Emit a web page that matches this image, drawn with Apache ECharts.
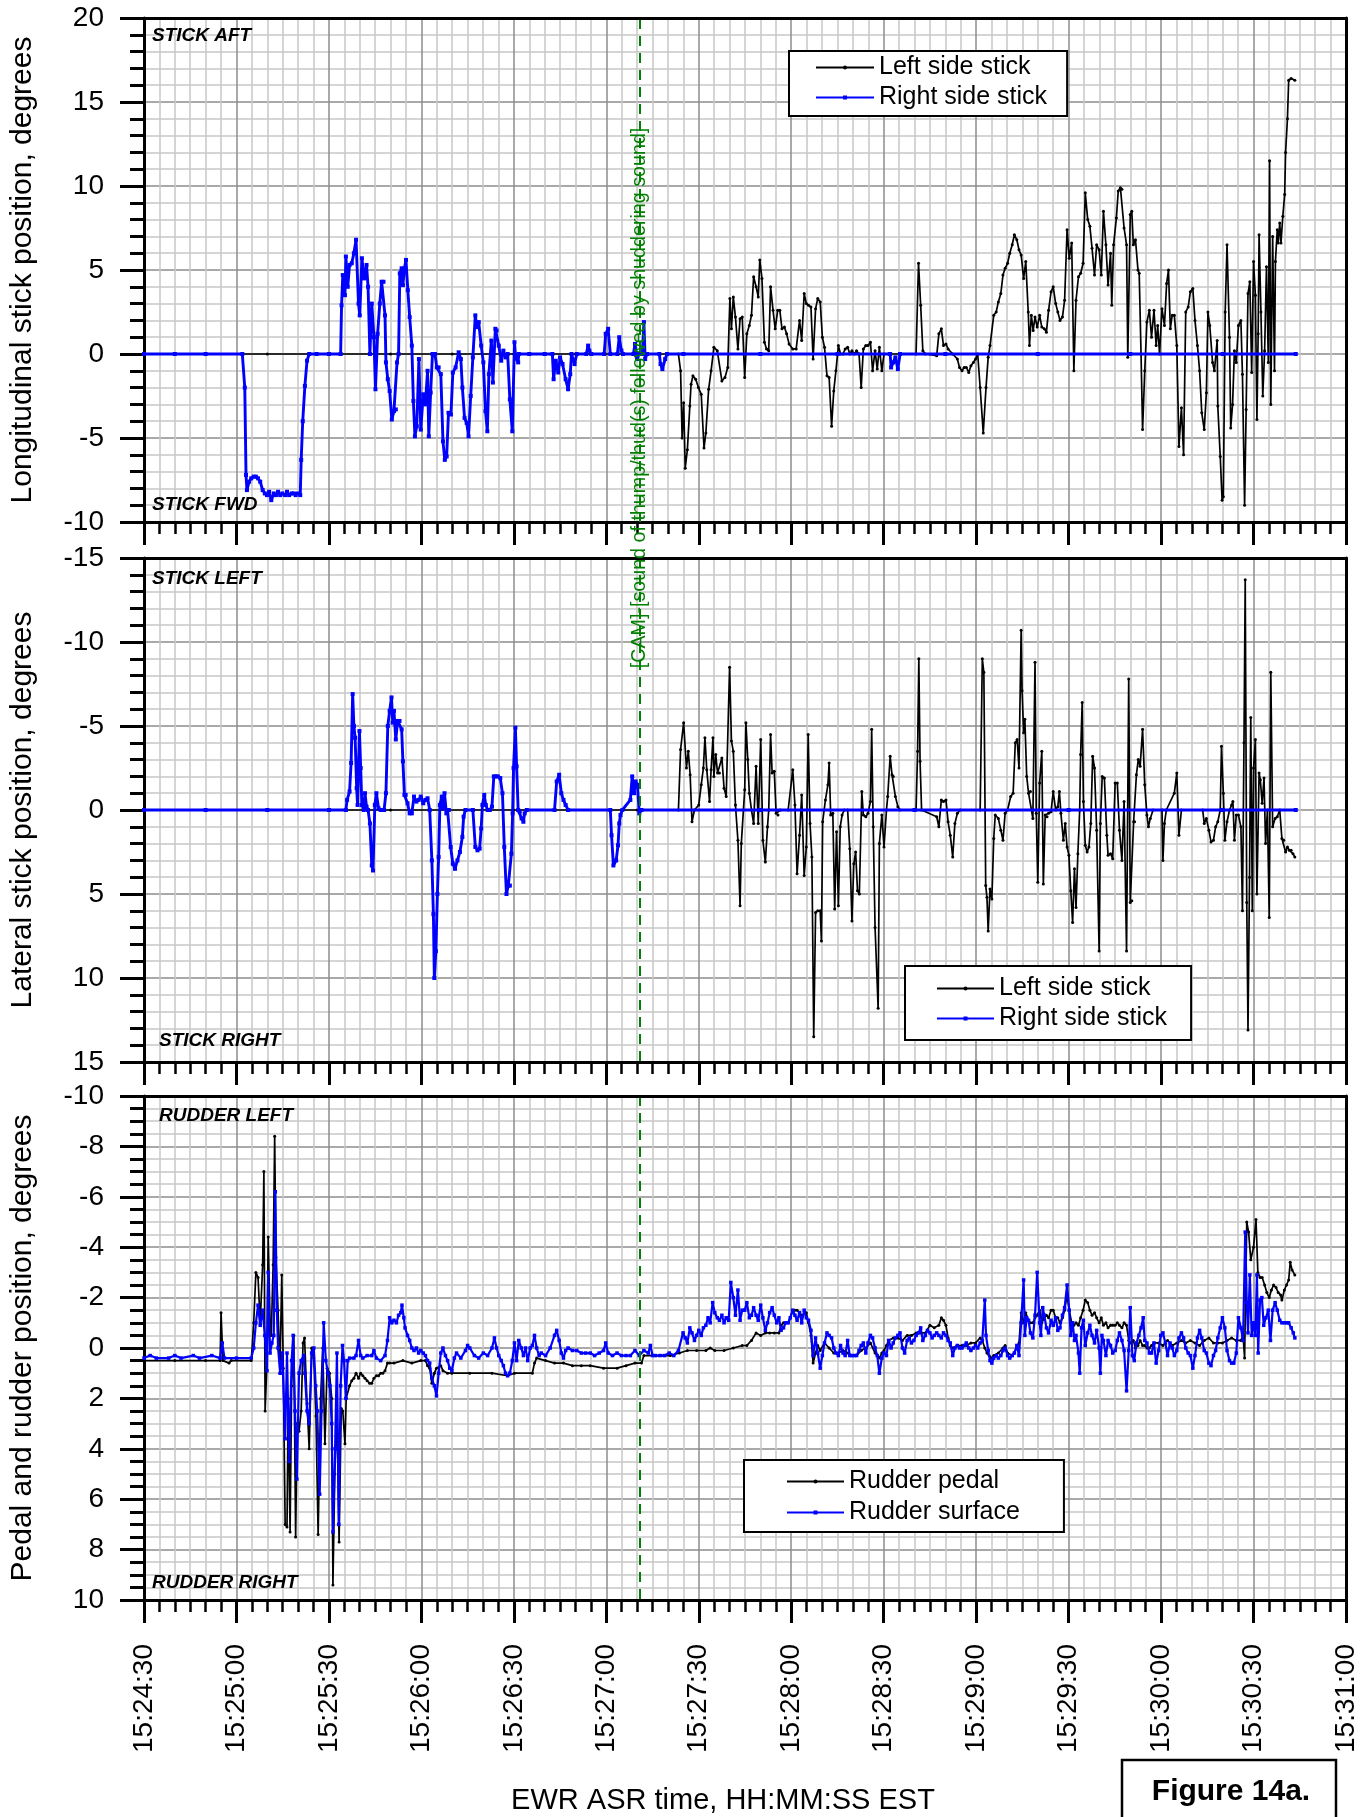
<!DOCTYPE html>
<html><head><meta charset="utf-8">
<script src="https://cdn.jsdelivr.net/npm/echarts@6/dist/echarts.min.js"></script>
<style>html,body{margin:0;padding:0;background:#fff}#c{width:1368px;height:1817px}</style>
</head><body><div id="c"></div>
<script>
// time origin 15:24:30 EST; x values are seconds after it
const T0 = 15 * 3600 + 24 * 60 + 30;
const X_MIN = 0, X_MAX = 390, X_STEP = 30;
const EVENT_T = 160.7; // CAM event, ~15:27:10.7
const EVENT_TEXT = '[CAM]-[sound of thump/thud(s) followed by shuddering sound]';

// Panel 1: longitudinal stick position, degrees
const longLeft = [[0,0],[20,0],[40,0],[60,0],[80,0],[100,0],[120,0],[140,0],[160,0],[173.4,0],
[174.1,-1.0],[174.6,-5.0],[175.1,-2.9],[175.6,-6.8],[176.3,-5.7],[177.1,-3.1],[177.5,-1.8],[178.1,-1.3],[179.0,-1.5],[179.9,-2.0],
[180.8,-2.4],[181.7,-5.6],[182.3,-4.7],[183.2,-2.1],[184.0,-1.0],[184.9,0.4],[186.0,0.2],[187.5,-1.6],[188.5,-1.4],[189.4,-0.8],
[190.1,3.3],[190.6,1.5],[191.2,3.4],[191.9,2.2],[192.7,0.3],[193.4,2.1],[194.1,2.2],[194.9,-1.4],[195.6,1.2],[196.4,1.7],
[197.1,2.3],[197.8,4.6],[198.6,4.0],[199.3,3.4],[199.8,5.6],[200.5,4.5],[201.3,0.7],[202.0,0.3],[202.7,0.2],[203.3,4.0],
[204.1,2.6],[204.8,1.5],[205.6,2.6],[206.3,2.6],[207.0,1.5],[207.8,1.6],[208.5,1.2],[209.3,0.6],[210.5,0.3],[211.6,0.3],
[212.7,2.0],[213.4,0.8],[214.2,3.6],[214.9,3.0],[215.6,2.9],[216.4,2.8],[217.1,-0.3],[217.9,2.7],[218.6,3.3],[219.4,3.1],
[220.1,1.0],[220.8,0.4],[221.6,-1.3],[222.3,-1.4],[223.1,-4.3],[223.8,-2.2],[224.5,-1.0],[225.3,0.5],[226.0,0],[226.8,0],
[227.5,0.3],[228.3,0.4],[229.0,0],[229.7,0.2],[230.5,0],[231.2,0.2],[232.0,0],[232.7,-2.0],[233.4,0.3],[234.2,0.5],
[234.9,0.5],[235.7,0.7],[236.4,-1.0],[237.2,0.2],[237.9,-0.9],[238.6,0.4],[239.4,-1.0],[240.1,0],[241.6,0],[245,0],
[250.5,0],[251.3,5.4],[252.0,2.9],[252.7,0.2],[253.5,0],[257.2,-0.1],[257.9,1.2],[258.7,1.5],[259.4,0.5],[260.2,0.6],
[260.9,0.3],[262.4,0],[263.9,-0.3],[264.6,-0.8],[265.4,-1.0],[266.1,-0.8],[266.8,-0.8],[267.6,-1.1],[268.3,-0.7],[269.1,-0.5],
[269.8,-0.3],[270.5,0],[271.3,-2.0],[272.3,-4.7],[273.2,-2.0],[273.9,-0.2],[274.5,0.5],[275.7,2.3],[276.5,2.5],[277.2,3.1],
[278.0,3.6],[278.7,4.7],[279.4,5.1],[280.2,5.4],[280.9,6.0],[281.7,6.5],[282.4,7.1],[283.2,6.8],[283.9,6.2],[284.6,5.9],
[285.4,4.5],[286.1,5.5],[286.9,2.5],[287.3,0.5],[287.9,2.3],[288.5,1.4],[289.1,2.2],[289.8,1.6],[290.6,2.3],[291.3,1.6],
[292.1,1.5],[292.8,1.3],[293.5,2.6],[294.3,3.7],[295.0,4.0],[295.8,3.0],[296.5,2.5],[297.2,2.0],[298.0,2.2],[298.7,3.2],
[299.5,7.4],[300.2,5.7],[301.0,6.6],[301.7,-1.0],[302.4,3.2],[303.2,4.6],[303.9,4.8],[304.7,5.4],[305.4,9.6],[306.2,8.0],
[306.9,7.6],[307.6,6.3],[308.4,4.7],[309.1,6.5],[309.9,6.2],[310.6,4.7],[311.3,8.5],[312.1,6.5],[312.8,4.1],[313.6,6.0],
[314.0,2.9],[314.6,6.5],[315.5,8.1],[316.1,9.7],[316.8,9.9],[317.3,9.8],[318.0,7.5],[318.8,6.5],[319.2,-0.2],[320.0,8.3],
[320.5,8.5],[321.0,6.5],[321.7,6.8],[322.5,5.0],[322.9,4.8],[323.5,0],[324.0,-4.5],[324.7,-1.0],[325.4,1.9],[326.2,2.6],
[326.9,1.0],[327.7,2.6],[328.4,0.5],[328.9,1.7],[329.5,0],[330.3,2.7],[331.1,1.7],[331.8,4.2],[332.4,5.0],[333.0,1.5],
[333.6,2.3],[334.3,2.3],[335.1,0.5],[335.8,-5.5],[336.6,-3.2],[337.3,-6.0],[338.0,2.5],[338.8,2.8],[339.5,3.7],[340.3,3.9],
[341.0,2.0],[341.8,0.5],[342.5,-1.0],[343.2,-3.5],[344.0,-4.5],[344.7,-2.3],[345.2,2.5],[345.8,1.7],[346.7,-0.5],[347.3,-1.0],
[348.2,0.8],[348.4,-3.1],[349.2,-6.1],[349.8,-8.7],[350.2,-8.5],[350.8,2.5],[351.4,6.5],[352.2,1.0],[352.6,-4.4],[353.2,-3.0],
[353.8,0.2],[354.4,-0.5],[355.1,1.7],[355.9,2.0],[356.4,-1.2],[357.1,-9.0],[357.6,-3.3],[358.2,3.6],[358.8,4.3],[359.4,-1.1],
[360.0,5.5],[360.6,3.5],[361.1,-3.9],[361.5,1.2],[361.8,7.1],[362.4,2.5],[363.0,-2.5],[363.6,0.2],[364.2,5.2],[364.8,-0.5],
[365.2,11.5],[365.6,-3.0],[366.2,7.0],[366.8,-1.0],[367.1,5.5],[367.7,7.4],[368.0,6.6],[368.5,7.8],[368.9,6.6],[369.5,8.2],
[370.1,9.5],[370.4,12.0],[371.0,14.0],[371.4,16.3],[372.2,16.4],[373.4,16.3]];

const longRight = [[0,0],[10,0],[20,0],[31.9,0],[32.7,-2.0],[33.1,-7.2],[33.4,-8.1],[34.1,-7.6],[34.8,-7.4],[35.6,-7.3],
[36.3,-7.3],[37.0,-7.4],[37.7,-7.6],[38.5,-8.1],[39.2,-8.3],[39.9,-8.4],[40.6,-8.2],[41.3,-8.7],[42.1,-8.3],[42.8,-8.4],
[43.5,-8.2],[44.2,-8.4],[44.9,-8.3],[45.8,-8.4],[46.4,-8.2],[47.1,-8.4],[47.9,-8.3],[48.6,-8.3],[49.2,-8.4],[50.0,-8.3],
[50.7,-8.4],[51.0,-6.3],[51.5,-4.0],[52.2,-1.9],[52.9,-0.4],[53.6,0],[56,0],[60,0],[63.8,0],[64.1,2.9],
[64.5,4.7],[65.2,3.5],[65.5,5.8],[66.1,4.0],[66.7,5.3],[67.4,5.4],[68.1,6.0],[68.8,6.8],[69.6,3.0],[70.0,2.3],
[70.7,5.7],[71.4,4.5],[72.2,5.3],[72.7,4.0],[73.3,0.0],[73.9,3.0],[74.6,1.0],[75.1,-2.1],[75.8,1.2],[76.5,3.0],
[77.1,4.3],[77.7,4.3],[78.2,2.3],[78.5,-0.5],[79.1,-1.5],[79.7,-2.2],[80.4,-3.9],[81.1,-3.4],[81.7,-3.3],[82.1,-0.5],
[82.6,0],[83.0,4.8],[83.6,5.1],[84.0,4.1],[84.5,5.1],[85.0,5.6],[85.6,3.8],[86.2,2.2],[86.9,0.5],[87.4,-2.8],
[87.9,-4.9],[88.5,-4.3],[89.2,-0.3],[89.8,-4.5],[90.6,-2.4],[91.3,-3.0],[92.0,-1.0],[92.4,-4.9],[93.0,-2.3],[93.6,0],
[94.4,0],[95.0,-0.8],[95.6,-0.8],[96.3,-1.2],[97.0,-5.2],[97.6,-6.3],[98.2,-6.1],[98.8,-3.5],[99.6,-3.6],[100.2,-1.1],
[101.1,-0.8],[102.1,0.1],[102.8,-0.3],[103.3,-2.0],[104.0,-3.8],[104.7,-4.1],[105.3,-4.9],[106.0,-2.5],[106.7,-0.2],[107.5,2.3],
[108.0,1.6],[108.6,1.9],[109.4,0.5],[110.1,-0.5],[110.8,-3.4],[111.4,-4.6],[111.9,-1.2],[112.7,0.8],[113.2,-1.7],[114.0,1.5],
[114.4,1.4],[115.1,0.5],[115.9,-0.4],[116.6,0.2],[117.3,-0.2],[118.0,0],[118.7,-2.7],[119.5,-4.6],[120.2,0.7],[120.6,-0.2],
[121.4,-0.5],[121.6,0],[125,0],[130,0],[132.5,0],[132.9,-1.5],[133.6,-0.4],[134.4,-1.1],[135.0,-0.2],[135.8,-0.6],
[136.8,-1.5],[137.6,-2.1],[138.3,-1.2],[138.7,0],[139.7,-0.6],[140.4,0],[143.5,0],[144.1,0.5],[144.5,0.2],[145.1,0],
[149.3,0],[149.8,1.2],[150.6,1.5],[151.3,0],[153.6,0],[154.2,1.0],[154.9,0.2],[155.4,0],[158.8,0],[159.3,0.6],
[160.0,-0.3],[160.7,0],[161.7,0],[162.2,1.9],[162.6,-0.3],[163.2,0],[167.2,0],[167.6,-0.6],[168.2,-0.9],[169.1,-0.3],
[169.7,0],[175,0],[200,0],[225,0],[242.1,0],[242.4,-0.8],[243.1,-0.5],[243.8,-0.2],[244.6,-0.9],[245.3,0],
[260,0],[290,0],[320,0],[350,0],[373.7,0]];

// Panel 2: lateral stick position, degrees (negative = left)
const latLeft = [[0,0],[40,0],[80,0],[120,0],[160,0],[173.4,0],[174.1,-3.6],[175.1,-5.2],[176.0,-2.5],[176.6,-3.5],
[177.2,-2.1],[177.8,0.7],[178.6,0],[180.0,-0.3],[180.8,-1.5],[181.5,-2.5],[182.0,-4.3],[182.6,-2.4],[183.5,-0.5],[184.0,-2.4],
[184.6,-4.3],[184.9,-2.0],[185.5,-3.3],[186.1,-2.2],[186.7,-2.2],[187.5,-3.1],[188.2,-1.3],[188.9,-0.8],[190.0,-8.5],[190.6,-4.1],
[191.2,-3.5],[191.9,-0.3],[192.7,1.8],[193.4,5.7],[193.8,2.0],[194.9,-1.2],[195.3,-5.2],[195.9,-3.0],[196.4,-1.0],[197.1,0],
[197.8,0.8],[198.6,-2.6],[199.3,0.8],[200.1,-4.2],[200.8,1.8],[201.6,3.1],[202.3,1.0],[202.7,0],[203.3,-4.5],[203.8,-2.2],
[204.5,-2.3],[205.1,0.2],[205.7,0.3],[206.5,0],[209.0,0],[210.5,-2.4],[211.2,-0.3],[211.9,3.8],[212.7,1.5],[213.4,-0.9],
[214.2,3.9],[214.9,2.2],[215.5,-4.5],[216.1,0.8],[216.7,2.8],[217.3,13.5],[217.9,6.1],[218.6,6.0],[219.4,6.0],[219.8,7.8],
[220.2,0.7],[221.1,-0.6],[221.9,-1.5],[222.3,-2.8],[222.8,0.3],[223.5,0.2],[224.1,5.9],[224.7,1.3],[225.3,5.7],[225.9,1.0],
[226.5,0.3],[227.2,0],[228.3,0],[229.0,2.3],[229.7,6.6],[230.3,3.2],[230.9,2.5],[231.5,4.8],[232.1,5.0],[232.9,-1.1],
[233.4,0.3],[234.2,0.4],[234.9,0.2],[235.7,-0.5],[236.1,-4.8],[236.6,1.0],[237.2,7.0],[238.2,11.8],[238.6,2.0],[239.4,0.3],
[240.1,2.2],[240.9,0],[241.3,-0.8],[242.1,-3.2],[242.7,-2.1],[243.1,-2.0],[243.8,-0.8],[244.6,-0.2],[245.3,0],[250.5,0],
[251.0,-3.5],[251.4,-9.0],[251.8,-2.9],[252.3,0],[257.2,0.4],[257.9,1.0],[258.7,-0.6],[259.4,-0.5],[260.2,-0.6],[260.9,0.7],
[261.6,1.5],[262.4,2.8],[263.1,0.8],[263.9,0.2],[264.8,0],[271.3,0],[272.0,-9.0],[272.5,-8.2],[273.1,4.5],[273.5,5.2],
[273.9,7.2],[274.5,4.7],[275.1,5.3],[275.7,1.7],[276.2,0.3],[277.2,0.5],[278.0,1.2],[278.7,1.8],[279.4,0.2],[280.2,0],
[281.2,-0.8],[282.0,-1.0],[282.7,-4.0],[283.3,-4.2],[283.9,-2.5],[284.6,-10.7],[284.9,-7.1],[285.4,-4.6],[285.8,-5.4],[286.4,-2.0],
[287.0,-1.0],[287.6,-1.1],[288.4,0.5],[289.1,-8.8],[289.5,0.2],[290.0,4.3],[290.6,-1.6],[291.3,-3.5],[291.8,4.4],[292.4,0.3],
[293.0,0.4],[293.5,0.2],[294.3,0.1],[295.0,-1.1],[295.8,0],[296.5,-0.2],[297.0,-1.1],[297.5,0.2],[298.3,1.8],[298.9,0.8],
[299.5,2.2],[300.1,2.7],[300.7,4.8],[301.3,6.7],[301.9,3.5],[302.4,5.8],[303.0,2.6],[303.6,0],[303.9,-3.3],[304.4,-6.4],
[304.8,-0.5],[305.4,2.1],[306.0,2.5],[306.6,2.2],[307.2,0.8],[307.8,-3.2],[308.4,-2.5],[309.1,1.2],[309.9,8.4],[310.3,0.8],
[310.9,-2.0],[311.6,-1.9],[312.4,1.5],[312.8,2.7],[313.6,2.6],[314.3,2.9],[315.1,-1.6],[315.8,-1.6],[316.5,1.2],[317.3,3.0],
[318.0,-0.5],[318.8,8.4],[319.5,-7.8],[320.0,5.5],[320.5,5.4],[321.1,0.7],[321.4,0.7],[322.0,-2.1],[322.6,-3.0],[323.2,-2.6],
[324.0,-4.8],[324.7,-1.5],[325.4,0.3],[325.9,1.0],[326.5,0.5],[327.4,0],[330.3,0],[330.6,3.0],[331.1,0.8],[331.7,0],
[334.3,-1.0],[335.1,-2.2],[335.8,1.5],[336.6,0],[343.5,0],[344.0,0.8],[344.7,0.5],[345.5,1.2],[346.2,1.9],[347.0,1.8],
[347.7,1.0],[348.4,0.7],[349.2,0],[349.6,-3.8],[350.2,-1.0],[350.7,1.8],[351.4,0.7],[352.2,0],[352.9,-0.3],[353.3,-0.5],
[353.8,1.8],[354.4,0.3],[355.1,0.3],[355.9,1.0],[356.4,6.0],[356.9,-4.0],[357.3,-13.7],[357.8,5.5],[358.2,13.1],[358.7,4.0],
[359.1,-5.5],[359.6,6.0],[360.0,-2.5],[360.6,-4.2],[361.1,5.0],[361.8,-2.2],[362.2,-1.8],[362.8,-0.4],[363.4,-1.9],[363.9,2.0],
[364.5,0],[365.1,6.4],[365.6,-8.2],[366.2,1.0],[367.0,0.5],[367.7,0.4],[368.5,0],[369.2,1.7],[369.8,1.8],[370.4,2.5],
[371.0,2.2],[371.6,2.4],[372.2,2.4],[372.8,2.6],[373.4,2.8]];

const latRight = [[0,0],[20,0],[40,0],[60,0],[65.5,0],[65.9,-0.6],[66.7,-1.1],[67.2,-2.8],[67.7,-6.9],[68.1,-5.0],
[68.5,-4.3],[69.0,-1.3],[69.3,-0.3],[69.9,-4.7],[70.3,-2.5],[70.7,-0.3],[71.3,0],[71.7,-1.0],[72.2,-0.2],[72.7,0],
[73.3,0.8],[73.9,3.3],[74.3,3.6],[74.9,-0.3],[75.4,-1.0],[76.1,-0.1],[76.8,0],[77.9,0],[78.5,-1.0],[79.1,-5.0],
[79.7,-5.9],[80.3,-6.7],[80.7,-5.2],[81.1,-5.9],[81.7,-4.2],[82.3,-5.3],[82.9,-5.3],[83.6,-4.8],[84.0,-2.9],[84.5,-0.9],
[84.9,-0.9],[85.5,-0.4],[86.2,0.2],[86.9,0.2],[87.6,-0.8],[88.4,-0.5],[89.1,-0.6],[89.8,-0.8],[90.6,-0.4],[91.3,-0.6],
[92.0,-0.7],[92.7,0],[93.4,3.0],[93.9,6.2],[94.2,10.0],[94.7,8.4],[95.2,5.0],[95.6,2.8],[96.0,-0.3],[96.6,-0.8],
[97.0,-0.1],[97.5,-1.0],[98.1,0.2],[98.5,0],[98.9,0],[99.5,2.2],[100.2,3.2],[100.9,3.5],[101.7,3.0],[102.5,2.5],
[103.3,1.6],[103.7,0.4],[104.3,0],[106.7,0],[107.5,2.2],[108.2,2.4],[108.9,2.3],[109.4,1.1],[109.8,-0.3],[110.4,-0.9],
[110.9,-0.3],[111.5,0],[112.2,0],[112.9,-0.2],[113.5,-2.0],[114.1,-2.0],[114.8,-2.0],[115.6,-1.9],[116.3,-1.0],[116.9,2.2],
[117.6,5.0],[118.2,4.5],[118.7,4.5],[119.2,2.6],[119.6,0.2],[119.9,-2.5],[120.5,-4.9],[120.9,-2.6],[121.4,0],[121.9,0.1],
[122.5,0.5],[123.1,0.7],[123.5,0.2],[124.2,0],[133.2,0],[133.9,-1.7],[134.7,-2.1],[135.4,-1.0],[136.1,-0.6],[136.8,-0.3],
[137.6,0],[151.3,0],[151.7,1.5],[152.3,3.3],[153.2,3.0],[153.8,2.1],[154.2,0.8],[154.6,0.3],[155.2,0],[157.8,-0.6],
[158.4,-2.0],[159.0,-1.0],[159.5,-1.7],[160.1,-1.5],[160.7,0.2],[161.4,0],[200,0],[250,0],[300,0],[350,0],[373.7,0]];

// Panel 3: pedal and rudder position, degrees (negative = left)
const pedal = [[0,0.5],[10,0.5],[20,0.5],[24.7,0.5],[25.0,-1.4],[25.6,0.5],[27.6,0.6],[28.3,0.5],[34.8,0.5],[35.6,-1.0],
[36.3,-3.0],[37.0,-2.8],[37.7,-1.0],[38.5,-3.3],[38.9,-7.0],[39.3,2.5],[39.8,0.9],[40.3,-4.4],[40.9,-1.0],[41.3,-0.5],
[41.9,-3.3],[42.4,-8.4],[42.8,-3.6],[43.5,-1.5],[44.1,1.0],[44.7,-2.9],[45.2,0.8],[45.8,7.0],[46.4,7.1],[46.8,2.0],
[47.4,7.3],[47.9,1.5],[48.6,-0.5],[49.2,7.5],[49.7,3.0],[50.3,3.3],[51.0,2.5],[51.6,-0.2],[52.1,-0.4],[52.9,2.2],
[53.6,4.0],[54.4,0],[55.1,0.4],[55.8,2.7],[56.5,7.4],[57.3,2.0],[58.0,0],[58.7,3.8],[59.4,0.8],[60.2,1.0],
[60.9,2.0],[61.3,9.4],[61.9,5.0],[62.6,2.5],[63.3,7.7],[64.0,2.4],[64.5,2.5],[65.2,3.8],[65.6,2.0],[66.7,1.5],
[67.4,1.3],[68.1,1.2],[68.8,1.0],[69.6,1.2],[70.3,1.0],[71.0,1.1],[71.7,1.2],[72.4,1.3],[73.2,1.4],[73.9,1.4],
[74.6,1.2],[75.4,1.1],[76.1,1.1],[76.8,1.0],[77.5,1.0],[78.2,0.9],[79.0,0.6],[79.7,0.6],[81.1,0.6],[84.0,0.5],
[86.9,0.6],[89.8,0.5],[91.3,0.5],[92.0,0.7],[92.7,0.8],[93.4,1.4],[94.2,1.0],[94.9,0.8],[96.3,0.7],[97.0,0.9],
[98.5,1.0],[99.9,1.0],[105.7,1.0],[112.9,1.0],[118.0,1.1],[120.2,1.0],[126.0,1.0],[126.7,0.6],[127.4,0.4],[130.3,0.5],
[133.2,0.6],[136.1,0.6],[139.0,0.7],[141.9,0.7],[144.8,0.7],[149.1,0.8],[153.5,0.8],[156.4,0.7],[159.3,0.6],[161.4,0.6],
[162.2,0.3],[165.0,0.3],[167.9,0.3],[170.8,0.3],[173.7,0.2],[176.3,0.1],[179.3,0.1],[182.3,0.1],[183.7,0.0],[185.2,0.1],
[188.2,0.1],[191.2,0.0],[194.1,-0.1],[195.6,-0.1],[197.1,-0.3],[198.6,-0.6],[200.1,-0.5],[201.6,-0.6],[203.0,-0.6],[204.5,-0.6],
[206.0,-0.6],[206.7,-0.9],[207.5,-1.0],[209.0,-1.0],[210.5,-1.5],[211.2,-1.5],[211.9,-1.5],[213.4,-1.3],[214.9,-1.4],[215.6,-1.0],
[216.4,-0.5],[217.1,0.6],[217.9,0.2],[218.6,-0.1],[219.4,0.1],[220.8,-0.2],[222.3,0.0],[223.8,0.2],[225.3,0.2],[226.8,0.1],
[228.3,0.2],[229.7,0.3],[231.2,0.3],[232.7,0.1],[234.2,0.0],[235.7,-0.2],[237.2,0.2],[238.6,0.4],[239.4,0.2],[240.1,0.1],
[240.9,-0.1],[241.6,-0.3],[243.1,-0.4],[244.6,-0.4],[246.1,-0.3],[247.6,-0.5],[249.0,-0.5],[250.5,-0.6],[252.0,-0.6],[253.5,-0.6],
[255.0,-0.9],[256.4,-0.8],[257.9,-0.9],[258.7,-1.2],[259.4,-1.1],[260.2,-0.9],[260.9,-0.4],[261.6,-0.1],[262.4,0.0],[263.9,-0.1],
[265.4,-0.1],[266.8,-0.1],[268.3,-0.2],[269.8,-0.2],[271.3,-0.4],[272.0,-0.3],[272.8,0.0],[273.5,0.2],[274.2,0.3],[275.0,0.4],
[275.7,0.3],[277.2,0.2],[278.7,0.0],[279.4,-0.1],[280.2,0.2],[281.7,0.3],[283.2,0.0],[283.9,-0.2],[284.6,-1.4],[285.4,-1.0],
[286.1,-1.4],[286.9,-1.1],[287.6,-1.0],[288.4,-1.0],[289.1,-1.2],[289.8,-1.3],[290.6,-1.5],[291.3,-1.0],[292.1,-1.2],[292.8,-1.3],
[293.5,-1.2],[294.3,-1.5],[295.0,-1.5],[295.8,-1.2],[296.5,-1.2],[297.2,-1.0],[298.0,-1.2],[298.7,-1.5],[299.5,-2.1],[300.2,-1.5],
[301.0,-1.0],[301.7,-0.9],[302.4,-1.0],[303.2,-0.9],[303.9,-1.2],[304.7,-1.5],[305.4,-1.9],[306.2,-1.8],[306.9,-1.5],[307.6,-1.3],
[308.4,-1.4],[309.1,-1.2],[309.9,-1.0],[310.6,-1.2],[311.3,-0.9],[312.1,-1.0],[312.8,-0.8],[313.6,-0.9],[314.3,-0.9],[315.1,-0.9],
[315.8,-1.0],[316.5,-0.9],[317.3,-0.8],[318.0,-1.0],[318.8,-0.9],[319.5,-0.3],[320.2,-0.2],[321.0,-0.3],[321.7,0.0],[322.5,-0.1],
[323.2,-0.3],[324.0,-0.1],[324.7,-0.1],[325.4,0.0],[326.2,0.0],[326.9,-0.1],[327.7,-0.2],[329.2,-0.2],[330.6,-0.1],[332.1,-0.3],
[333.6,-0.1],[335.1,-0.2],[336.6,-0.3],[338.0,-0.2],[339.5,-0.3],[341.0,-0.2],[342.5,-0.1],[344.0,-0.3],[345.5,-0.4],[347.0,-0.2],
[348.4,-0.2],[349.9,-0.2],[351.4,-0.3],[352.9,-0.4],[354.4,-0.3],[355.9,-0.3],[356.6,-0.5],[357.1,0.4],[357.8,-5.0],[358.4,-4.6],
[359.1,-3.5],[360.0,-4.0],[360.8,-5.1],[361.4,-3.0],[362.1,-2.8],[362.8,-2.8],[363.6,-2.5],[364.3,-2.2],[365.1,-2.0],[365.8,-2.3],
[366.5,-2.5],[367.3,-2.4],[368.0,-2.2],[368.8,-2.1],[369.2,-1.9],[370.0,-2.3],[370.7,-2.5],[371.4,-2.7],[371.9,-3.4],[372.5,-3.1],
[373.4,-2.9]];

const surface = [[0,0.4],[2,0.3],[4,0.4],[8,0.4],[10,0.3],[12,0.4],[16,0.3],[18,0.4],[22,0.3],[24.7,0.4],
[25.4,-0.2],[26.1,0.4],[30,0.4],[34.8,0.4],[35.6,0],[36.3,-1.0],[37.0,-1.7],[37.7,-0.9],[38.5,-1.5],[39.2,-0.5],
[39.9,0.9],[40.3,-3.0],[40.9,0.2],[41.5,-0.2],[42.1,-0.5],[42.6,-6.2],[43.1,-1.5],[43.5,0],[44.2,1.0],[44.9,0.2],
[45.8,3.6],[46.4,0.2],[47.1,4.5],[47.9,0.5],[48.4,-0.5],[49.0,2.5],[49.6,5.2],[50.3,1.0],[51.0,0.5],[51.8,0.3],
[52.2,1.0],[52.9,2.5],[53.6,3.0],[54.4,0.2],[55.1,0],[55.7,1.5],[56.2,2.5],[57.0,5.8],[57.6,2.5],[58.3,-1.0],
[59.0,0.5],[59.7,1.0],[60.3,1.5],[60.9,3.0],[61.3,7.3],[62.0,4.0],[62.6,0.2],[63.2,7.0],[63.8,1.5],[64.4,-0.1],
[64.9,0.5],[65.5,2.0],[66.1,0.5],[66.7,0.4],[68.1,0.4],[68.8,0.3],[69.6,-0.3],[70.3,0.3],[71.0,0.4],[72.4,0.3],
[73.9,0.3],[74.6,0.1],[75.4,0.4],[76.8,0.5],[78.2,0.3],[79.0,-0.3],[79.7,-1.2],[80.4,-1.0],[81.1,-1.1],[81.9,-1.0],
[82.6,-1.3],[83.3,-1.4],[83.7,-1.7],[84.3,-1.2],[84.7,-0.8],[85.5,-0.5],[86.2,-0.3],[86.9,0],[87.6,0.1],[88.4,0.0],
[89.1,0.2],[89.8,0.1],[90.6,0.2],[91.3,0.3],[92.0,0.5],[92.7,0.6],[93.4,1.2],[94.2,1.5],[94.9,1.9],[95.6,1.0],
[96.3,0.2],[97.0,0],[97.8,0.3],[98.5,0.5],[99.2,0.8],[99.9,0.9],[100.7,0.4],[101.4,0.2],[102.8,0.4],[104.3,0.1],
[105.0,-0.1],[105.7,0],[107.2,0.3],[108.6,0.4],[110.1,0.2],[111.5,0.3],[112.9,0],[113.7,-0.4],[114.4,0],[115.1,0.3],
[115.9,0.5],[116.6,0.7],[117.3,1.0],[118.0,1.1],[118.7,1.0],[119.5,0.5],[120.2,-0.2],[120.9,0.5],[121.6,-0.3],[122.4,0],
[123.1,0.3],[123.8,0],[124.5,0.5],[125.3,0],[126.0,-0.1],[126.7,-0.5],[127.4,0],[128.2,0.3],[128.9,0.2],[130.3,0.3],
[131.8,0],[133.2,-0.5],[133.9,-0.7],[134.7,-0.3],[135.4,0.2],[136.1,0.4],[136.8,0.1],[137.6,0],[139.0,0.1],[140.4,0.1],
[141.9,0.2],[143.3,0.2],[144.8,0.2],[146.2,0.3],[147.7,0.2],[149.1,0.1],[149.8,-0.2],[150.6,0.2],[152.0,0.3],[153.5,0.2],
[154.9,0.3],[156.4,0.3],[157.8,0.3],[159.3,0.1],[160.7,0.3],[162.2,0.1],[163.6,0.2],[164.3,-0.1],[165.0,0.3],[165.9,0.3],
[167.4,0.3],[168.9,0.3],[170.4,0.2],[171.9,0.3],[173.4,0.1],[174.9,-0.6],[175.6,-0.4],[176.3,-0.2],[177.1,-0.8],[177.8,-0.6],
[178.6,-0.3],[179.3,-0.5],[180.0,-0.7],[180.8,-0.5],[181.5,-0.8],[182.3,-0.9],[183.0,-1.2],[183.7,-1.0],[184.5,-1.8],[185.2,-1.4],
[186.0,-1.2],[186.7,-1.1],[187.5,-1.3],[188.2,-1.0],[188.9,-1.2],[189.7,-1.1],[190.4,-2.6],[191.2,-2.0],[191.9,-1.3],[192.7,-2.3],
[193.4,-1.1],[194.1,-1.5],[194.9,-1.5],[195.6,-1.8],[196.4,-1.2],[197.1,-1.3],[197.8,-1.6],[198.6,-1.3],[199.3,-1.1],[200.1,-1.7],
[200.8,-1.2],[201.6,-0.7],[202.3,-1.0],[203.0,-1.4],[203.8,-1.6],[204.5,-1.3],[205.3,-1.0],[206.0,-1.2],[206.7,-0.7],[207.5,-0.8],
[208.2,-1.0],[209.0,-1.0],[209.7,-1.2],[210.5,-1.5],[211.2,-1.3],[211.9,-1.1],[212.7,-1.4],[213.4,-1.0],[214.2,-1.5],[214.9,-1.2],
[215.6,-1.1],[216.4,-0.7],[217.1,0.3],[217.9,-0.4],[218.6,0.2],[219.4,0.8],[220.1,0.3],[220.8,-0.2],[221.6,-0.6],[222.3,-0.5],
[223.1,-0.4],[223.8,0.0],[224.5,0.2],[225.3,0.3],[226.0,-0.1],[226.8,0.2],[227.5,0.3],[228.3,-0.3],[229.0,0.3],[229.7,0.3],
[230.5,0.3],[231.2,0.3],[232.0,0.1],[232.7,-0.1],[233.4,-0.2],[234.2,0.2],[234.9,-0.2],[235.7,-0.5],[236.4,-0.4],[237.2,0.0],
[237.9,0.3],[238.6,1.0],[239.4,0.4],[240.1,0.2],[240.9,0.3],[241.6,-0.3],[242.4,0.0],[243.1,-0.2],[243.8,-0.4],[244.6,-0.5],
[245.3,-0.6],[246.1,0.0],[246.8,0.2],[247.6,-0.3],[248.3,-0.4],[249.0,-0.2],[249.8,-0.3],[250.5,-0.5],[251.3,-0.6],[252.0,-0.8],
[252.7,-0.3],[253.5,-0.5],[254.2,-0.7],[255.0,-0.6],[255.7,-0.4],[256.4,-0.5],[257.2,-0.6],[257.9,-0.5],[258.7,-0.4],[259.4,-0.6],
[260.2,-0.5],[260.9,-0.3],[261.6,-0.2],[262.4,0.3],[263.1,0.0],[263.9,-0.1],[264.6,0.0],[265.4,0.0],[266.1,-0.1],[266.8,-0.2],
[267.6,0.0],[268.3,0.1],[269.1,0.0],[269.8,-0.1],[270.5,0.0],[271.3,-0.2],[272.0,-0.3],[272.8,-1.9],[273.2,-0.5],[273.9,0.1],
[274.5,0.5],[275.1,0.6],[275.7,0.4],[276.5,0.3],[277.2,0.4],[278.0,0.3],[278.7,0.1],[279.4,0.0],[280.2,0.3],[280.9,0.4],
[281.7,0.3],[282.4,0.2],[283.2,-0.1],[283.9,0.3],[284.6,-1.0],[285.4,-2.7],[285.8,-0.5],[286.4,-1.2],[287.0,-1.1],[287.6,-0.6],
[288.4,-0.4],[289.1,-1.3],[289.8,-3.0],[290.6,-1.0],[291.0,-0.5],[291.6,-1.6],[292.1,-1.3],[292.8,-0.8],[293.5,-0.6],[294.3,-1.1],
[295.0,-0.9],[295.8,-1.2],[296.5,-0.7],[297.2,-0.8],[298.0,-1.3],[298.7,-1.6],[299.5,-2.5],[300.2,-1.5],[300.7,-0.5],[301.3,-1.0],
[301.9,-0.3],[302.4,-0.5],[303.2,0.2],[303.6,1.0],[304.2,-0.8],[304.8,-1.1],[305.4,-0.1],[306.2,-0.6],[306.9,-0.9],[307.6,-0.5],
[308.4,-0.2],[309.1,-0.7],[309.9,0.0],[310.3,1.0],[310.8,-0.5],[311.3,-0.3],[312.1,0.3],[312.8,-0.3],[313.6,-0.1],[314.3,0.2],
[315.1,0.1],[315.8,-0.3],[316.5,-0.6],[317.3,-0.3],[318.0,0.1],[318.8,1.7],[319.5,0.1],[320.0,-1.6],[320.7,0.3],[321.3,0.5],
[322.0,-0.2],[322.8,-0.5],[323.5,-0.8],[324.2,-1.2],[324.7,-0.3],[325.4,-0.2],[326.2,0.2],[326.9,0.2],[327.7,-0.2],[328.4,0.6],
[329.2,0.1],[329.9,-0.5],[330.6,-0.6],[331.4,-0.2],[332.1,0.3],[332.9,-0.2],[333.6,0.0],[334.3,0.3],[335.1,0.1],[335.8,-0.4],
[336.6,-0.6],[337.3,-0.4],[338.0,0.0],[338.8,0.2],[339.5,0.3],[340.3,0.8],[341.0,0.3],[341.8,-0.4],[342.5,-0.7],[343.2,-0.4],
[344.0,0.1],[344.7,0.2],[345.5,0.6],[346.2,0.7],[347.0,0.3],[347.7,0.1],[348.4,-0.4],[349.2,-0.8],[349.9,-1.2],[350.7,-0.8],
[351.4,0.1],[352.2,0.5],[352.9,0.6],[353.6,0.6],[354.4,0.2],[355.1,-1.2],[355.9,-0.8],[356.6,-0.3],[357.3,-4.6],[357.8,-1.8],
[358.2,-0.6],[358.8,-2.9],[359.4,-0.5],[360.0,-1.0],[360.6,-0.5],[361.1,-2.9],[361.5,0.2],[362.1,-1.9],[362.7,-2.0],[363.3,-0.9],
[364.0,-1.2],[364.8,-1.5],[365.5,-0.3],[366.2,-1.5],[367.0,-1.8],[367.7,-1.5],[368.5,-1.1],[369.2,-1.0],[370.0,-1.0],[370.7,-1.0],
[371.4,-1.0],[372.2,-0.8],[372.9,-0.6],[373.4,-0.4]];

const FONT = "'Liberation Sans', Arial, Helvetica, sans-serif";
const GRID_TOPS = [18, 558, 1096];
const GRID_H = 504;

function pad2(n){ return (n < 10 ? '0' : '') + n; }
function fmtTime(v){ const s = Math.round(T0 + v); return Math.floor(s/3600) + ':' + pad2(Math.floor(s%3600/60)) + ':' + pad2(s%60); }

const xAxis = [], yAxis = [], grid = [], series = [];
const panels = [
  {min:-10, max:20, interval:5, minor:5, inverse:false, name:'Longitudinal stick position, degrees', blueW:2.9, blueS:4,
   s:[['Left side stick', longLeft], ['Right side stick', longRight]]},
  {min:-15, max:15, interval:5, minor:5, inverse:true, name:'Lateral stick position, degrees', blueW:2.9, blueS:4,
   s:[['Left side stick', latLeft], ['Right side stick', latRight]]},
  {min:-10, max:10, interval:2, minor:4, inverse:true, name:'Pedal and rudder position, degrees', blueW:2.2, blueS:3.5,
   s:[['Rudder pedal', pedal], ['Rudder surface', surface]]}
];
panels.forEach((p, i) => {
  grid.push({left:142, right:22, top:GRID_TOPS[i], height:GRID_H, containLabel:false});
  const last = i === 2;
  xAxis.push({
    type:'value', gridIndex:i, min:X_MIN, max:X_MAX, interval:X_STEP, position:'bottom',
    axisLine:{show:true, onZero:false, lineStyle:{color:'#000', width:3}},
    axisTick:{show:true, inside:false, length:23, lineStyle:{color:'#000', width:3}},
    minorTick:{show:true, splitNumber:6, length:12, lineStyle:{color:'#000', width:2.5}},
    splitLine:{show:true, showMinLine:false, showMaxLine:false, lineStyle:{color:'#8c8c8c', width:1.5}},
    minorSplitLine:{show:true, lineStyle:{color:'#c8c8c8', width:1.5}},
    axisLabel:{show:last, rotate:90, margin:44, fontSize:28, color:'#000', fontFamily:FONT, formatter:fmtTime},
    name: last ? 'EWR ASR time, HH:MM:SS EST' : '',
    nameLocation:'middle', nameGap:186,
    nameTextStyle:{fontSize:29, color:'#000', fontFamily:FONT, padding:[0,44,0,0]}
  });
  xAxis.push({
    type:'value', gridIndex:i, min:X_MIN, max:X_MAX, position:'top', z:5,
    axisLine:{show:true, onZero:false, lineStyle:{color:'#000', width:3}},
    axisTick:{show:false}, axisLabel:{show:false}, splitLine:{show:false}
  });
  yAxis.push({
    type:'value', gridIndex:i, min:p.min, max:p.max, interval:p.interval, inverse:p.inverse, position:'left',
    axisLine:{show:true, onZero:false, lineStyle:{color:'#000', width:3}},
    axisTick:{show:true, inside:false, length:24, lineStyle:{color:'#000', width:3}},
    minorTick:{show:true, splitNumber:p.minor, length:14, lineStyle:{color:'#000', width:3}},
    splitLine:{show:true, showMinLine:false, showMaxLine:false, lineStyle:{color:'#8c8c8c', width:1.5}},
    minorSplitLine:{show:true, lineStyle:{color:'#c8c8c8', width:1.5}},
    axisLabel:{fontSize:28, color:'#000', margin:40, fontFamily:FONT},
    name:p.name, nameLocation:'middle', nameGap:106,
    nameTextStyle:{fontSize:30, color:'#000', fontFamily:FONT}
  });
  yAxis.push({
    type:'value', gridIndex:i, min:p.min, max:p.max, inverse:p.inverse, position:'right', z:5,
    axisLine:{show:true, onZero:false, lineStyle:{color:'#000', width:3}},
    axisTick:{show:false}, axisLabel:{show:false}, splitLine:{show:false}
  });
  p.s.forEach((sd, k) => {
    const blue = k === 1;
    const col = blue ? '#0000ff' : '#000000';
    const ser = {
      type:'line', name:sd[0], data:sd[1], xAxisIndex:i*2, yAxisIndex:i*2,
      symbol: blue ? 'rect' : 'circle', symbolSize: blue ? p.blueS : 3,
      showSymbol:true, animation:false, silent:true, z: blue ? 4 : 3,
      lineStyle:{color:col, width: blue ? p.blueW : 1.7},
      itemStyle:{color:col}
    };
    if (blue) {
      ser.markLine = {silent:true, symbol:['none','none'], label:{show:false}, animation:false,
        lineStyle:{color:'#008000', type:[10,7], width:2}, data:[{xAxis:EVENT_T}]};
    }
    series.push(ser);
  });
});

const legendBase = {orient:'vertical', borderColor:'#000', borderWidth:2, backgroundColor:'#fff',
  itemHeight:5, textStyle:{fontSize:25, color:'#000', fontFamily:FONT}, selectedMode:false};
const legend = [
  Object.assign({}, legendBase, {left:789, top:51, itemWidth:58, itemGap:5, padding:[4,20,6,26],
    data:['Left side stick','Right side stick']}),
  Object.assign({}, legendBase, {left:905, top:966, itemWidth:57, itemGap:5, padding:[10,24,9,31],
    data:['Left side stick','Right side stick']}),
  Object.assign({}, legendBase, {left:744, top:1460, itemWidth:57, itemGap:6, padding:[9,44,7,42],
    data:['Rudder pedal','Rudder surface']})
];

const chart = echarts.init(document.getElementById('c'), null, {renderer:'canvas'});
chart.setOption({animation:false, backgroundColor:'#fff', grid, xAxis, yAxis, series, legend});

const evX = chart.convertToPixel({xAxisIndex:0}, EVENT_T);
const noteFont = "italic bold 19px " + FONT;
const notes = [['STICK AFT',152,36],['STICK FWD',152,505],['STICK LEFT',152,579],
  ['STICK RIGHT',159,1041],['RUDDER LEFT',159,1116],['RUDDER RIGHT',152,1583]];
const graphic = notes.map(n => ({type:'text', x:n[1], y:n[2], z:10, silent:true,
  style:{text:n[0], font:noteFont, fill:'#000', verticalAlign:'middle'}}));
graphic.push({type:'text', x:evX, y:398, rotation:Math.PI/2, z:10, silent:true,
  style:{text:EVENT_TEXT, font:'19.7px ' + FONT, fill:'#008000', align:'center', verticalAlign:'middle'}});
graphic.push({type:'rect', shape:{x:1122, y:1760, width:214, height:90}, z:10, silent:true,
  style:{fill:'#fff', stroke:'#000', lineWidth:2.5}});
graphic.push({type:'text', x:1231, y:1792, z:11, silent:true,
  style:{text:'Figure 14a.', font:'bold 30px ' + FONT, fill:'#000', align:'center', verticalAlign:'middle'}});
chart.setOption({graphic});
</script></body></html>
